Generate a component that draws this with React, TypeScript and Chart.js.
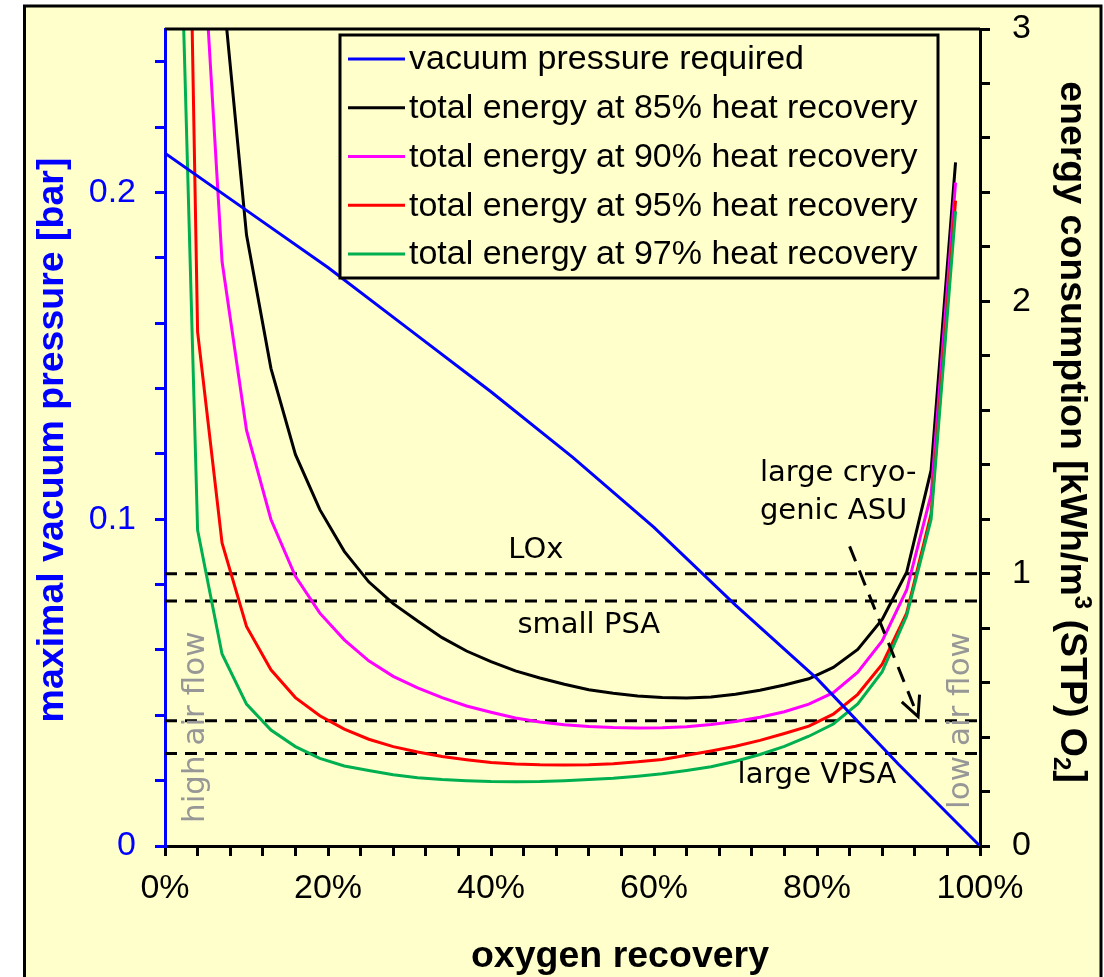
import React, { useEffect, useRef } from "react";
import { Chart, registerables } from "chart.js";

Chart.register(...registerables);

// ---------------- data ----------------
const RECOVERY_PCT = [1, 4, 7, 10, 13, 16, 19, 22, 25, 28, 31, 34, 37, 40, 43, 46, 49, 52, 55, 58, 61, 64, 67, 70, 73, 76, 79, 82, 85, 88, 91, 94, 97];

const ENERGY_85 = [20, 5.4, 3.18, 2.244, 1.754, 1.438, 1.235, 1.082, 0.97, 0.89, 0.826, 0.765, 0.716, 0.677, 0.643, 0.617, 0.594, 0.574, 0.561, 0.551, 0.545, 0.543, 0.547, 0.557, 0.572, 0.591, 0.614, 0.656, 0.722, 0.832, 1.005, 1.38, 2.51];
const ENERGY_90 = [13.5, 3.66, 2.146, 1.527, 1.199, 0.99, 0.855, 0.757, 0.68, 0.623, 0.581, 0.545, 0.514, 0.491, 0.47, 0.455, 0.445, 0.439, 0.435, 0.433, 0.434, 0.438, 0.446, 0.457, 0.473, 0.493, 0.521, 0.563, 0.638, 0.753, 0.94, 1.29, 2.436];
const ENERGY_95 = [6.9, 1.888, 1.113, 0.806, 0.647, 0.545, 0.478, 0.429, 0.392, 0.365, 0.345, 0.329, 0.317, 0.307, 0.301, 0.298, 0.297, 0.298, 0.302, 0.309, 0.318, 0.333, 0.349, 0.366, 0.388, 0.413, 0.44, 0.484, 0.557, 0.668, 0.855, 1.22, 2.37];
const ENERGY_97 = [4.4, 1.16, 0.705, 0.521, 0.426, 0.365, 0.322, 0.294, 0.277, 0.262, 0.251, 0.244, 0.24, 0.237, 0.236, 0.237, 0.24, 0.244, 0.249, 0.256, 0.265, 0.277, 0.291, 0.311, 0.336, 0.366, 0.403, 0.448, 0.522, 0.64, 0.845, 1.2, 2.33];

const VACUUM_X = [0, 10, 20, 30, 40, 50, 60, 70, 80, 90, 100];
const VACUUM_P = [0.212, 0.1945, 0.177, 0.158, 0.139, 0.119, 0.0975, 0.0737, 0.0512, 0.025, 0];

const REFERENCE_LEVELS = [1.0, 0.9, 0.46, 0.34];

const LEGEND_LABELS = [
  "vacuum pressure required",
  "total energy at 85% heat recovery",
  "total energy at 90% heat recovery",
  "total energy at 95% heat recovery",
  "total energy at 97% heat recovery",
];

const X_TICK_LABEL_STEP = 20;
const LEFT_LABEL_STEP = 0.1;
const RIGHT_LABEL_STEP = 1;

// ---------------- styles / layout ----------------
const W = 1104;
const H = 977;
const BG = "#FFFFCC";
const BLUE = "#0000FF";
const COLORS = ["#0000FF", "#000000", "#FF00FF", "#FF0000", "#00B050"];
const GRAY = "#979797";
const TICK_FONT = "Liberation Sans, Arial, sans-serif";
const ANN_FONT = "DejaVu Sans, sans-serif";

const ANNOTATIONS = [
  { text: "LOx", x: 45.5, y: 1.059, align: "center" },
  { text: "small PSA", x: 52.0, y: 0.783, align: "center" },
  { text: "large cryo-", x: 73.0, y: 1.339, align: "left" },
  { text: "genic ASU", x: 73.0, y: 1.199, align: "left" },
  { text: "large VPSA", x: 80.0, y: 0.2305, align: "center" },
];
const VERTICAL_NOTES = [
  { text: "high air flow", x: 4.8, y: 0.436 },
  { text: "low air flow", x: 98.6, y: 0.461 },
];
const ARROW = { from: [84.0, 1.1], to: [92.4, 0.475] };

function drawRich(ctx: CanvasRenderingContext2D, segs: { t: string; f: string; dy?: number }[], x: number, y: number, rot: number) {
  ctx.save();
  ctx.translate(x, y);
  ctx.rotate(rot);
  ctx.textAlign = "left";
  ctx.textBaseline = "alphabetic";
  let total = 0;
  const ws = segs.map((s) => {
    ctx.font = s.f;
    const w = ctx.measureText(s.t).width;
    total += w;
    return w;
  });
  let cx = -total / 2;
  segs.forEach((s, i) => {
    ctx.font = s.f;
    ctx.fillText(s.t, cx, s.dy || 0);
    cx += ws[i];
  });
  ctx.restore();
}

const decorPlugin = {
  id: "decor",
  beforeDraw(chart: any) {
    const ctx: CanvasRenderingContext2D = chart.ctx;
    ctx.save();
    ctx.fillStyle = "#FFFFFF";
    ctx.fillRect(0, 0, W, H);
    ctx.fillStyle = BG;
    ctx.fillRect(24.5, 6, 1101 - 24.5, H + 20);
    ctx.strokeStyle = "#000";
    ctx.lineWidth = 3;
    ctx.strokeRect(24.5, 6, 1101 - 24.5, H + 20);
    ctx.restore();
  },
  afterDraw(chart: any) {
    const ctx: CanvasRenderingContext2D = chart.ctx;
    const ca = chart.chartArea;
    const xs = chart.scales.x;
    const ys = chart.scales.y2;
    ctx.save();

    // top frame line
    ctx.strokeStyle = "#000";
    ctx.lineWidth = 3;
    ctx.beginPath();
    ctx.moveTo(ca.left, ca.top);
    ctx.lineTo(ca.right, ca.top);
    ctx.stroke();

    // annotations
    ctx.fillStyle = "#000";
    ctx.font = `29px ${ANN_FONT}`;
    ctx.textBaseline = "alphabetic";
    ANNOTATIONS.forEach((a) => {
      ctx.textAlign = a.align as CanvasTextAlign;
      ctx.fillText(a.text, xs.getPixelForValue(a.x), ys.getPixelForValue(a.y));
    });

    // vertical gray notes
    ctx.fillStyle = GRAY;
    ctx.font = `31px ${ANN_FONT}`;
    VERTICAL_NOTES.forEach((n) => {
      ctx.save();
      ctx.translate(xs.getPixelForValue(n.x), ys.getPixelForValue(n.y));
      ctx.rotate(-Math.PI / 2);
      ctx.textAlign = "center";
      ctx.fillText(n.text, 0, 0);
      ctx.restore();
    });

    // arrow
    const x0 = xs.getPixelForValue(ARROW.from[0]);
    const y0 = ys.getPixelForValue(ARROW.from[1]);
    const x1 = xs.getPixelForValue(ARROW.to[0]);
    const y1 = ys.getPixelForValue(ARROW.to[1]);
    ctx.strokeStyle = "#000";
    ctx.lineWidth = 3;
    ctx.setLineDash([16, 10]);
    ctx.beginPath();
    ctx.moveTo(x0, y0);
    ctx.lineTo(x1, y1);
    ctx.stroke();
    ctx.setLineDash([]);
    const ang = Math.atan2(y1 - y0, x1 - x0);
    const hl = 22;
    ctx.beginPath();
    ctx.moveTo(x1 + hl * Math.cos(ang + Math.PI - 0.45), y1 + hl * Math.sin(ang + Math.PI - 0.45));
    ctx.lineTo(x1, y1);
    ctx.lineTo(x1 + hl * Math.cos(ang + Math.PI + 0.45), y1 + hl * Math.sin(ang + Math.PI + 0.45));
    ctx.stroke();

    // legend
    const lx = 340, ly = 35, lw = 598, lh = 243;
    ctx.fillStyle = BG;
    ctx.fillRect(lx, ly, lw, lh);
    ctx.strokeStyle = "#000";
    ctx.lineWidth = 3;
    ctx.strokeRect(lx, ly, lw, lh);
    ctx.font = `34px ${TICK_FONT}`;
    ctx.textAlign = "left";
    ctx.textBaseline = "middle";
    LEGEND_LABELS.forEach((label, i) => {
      const ry = 59 + i * 48.75;
      ctx.strokeStyle = COLORS[i];
      ctx.beginPath();
      ctx.moveTo(348, ry);
      ctx.lineTo(405, ry);
      ctx.stroke();
      ctx.fillStyle = "#000";
      ctx.fillText(label, 409, ry + 1);
    });

    // axis titles
    const bold = (s: number) => `bold ${s}px ${TICK_FONT}`;
    ctx.fillStyle = BLUE;
    drawRich(ctx, [{ t: "maximal vacuum pressure [bar]", f: bold(37.5) }], 63, 440, -Math.PI / 2);
    ctx.fillStyle = "#000";
    drawRich(
      ctx,
      [
        { t: "energy consumption [kWh/m", f: bold(37.5) },
        { t: "3", f: bold(24), dy: -14 },
        { t: " (STP) O", f: bold(37.5) },
        { t: "2", f: bold(24), dy: 7 },
        { t: "]", f: bold(37.5) },
      ],
      1061,
      432,
      Math.PI / 2
    );
    drawRich(ctx, [{ t: "oxygen recovery", f: bold(37.5) }], 620, 967, 0);

    ctx.restore();
  },
};

const zeroPad = (s: any) => {
  s.paddingTop = 0;
  s.paddingBottom = 0;
  s.paddingLeft = 0;
  s.paddingRight = 0;
};

function buildConfig(): any {
  const energySeries = [ENERGY_85, ENERGY_90, ENERGY_95, ENERGY_97];
  const datasets: any[] = [];
  datasets.push({
    label: LEGEND_LABELS[0],
    data: VACUUM_X.map((x, i) => ({ x, y: VACUUM_P[i] })),
    borderColor: COLORS[0],
    borderWidth: 3,
    yAxisID: "y",
    order: 1,
  });
  energySeries.forEach((s, k) => {
    datasets.push({
      label: LEGEND_LABELS[k + 1],
      data: RECOVERY_PCT.map((x, i) => ({ x, y: s[i] })),
      borderColor: COLORS[k + 1],
      borderWidth: 3,
      yAxisID: "y2",
      order: 2 + (3 - k),
    });
  });
  REFERENCE_LEVELS.forEach((lvl) => {
    datasets.push({
      label: "",
      data: [
        { x: 0, y: lvl },
        { x: 100, y: lvl },
      ],
      borderColor: "#000",
      borderWidth: 3,
      borderDash: [12, 8],
      yAxisID: "y2",
      order: 10,
    });
  });

  const tickFont = { family: TICK_FONT, size: 34 };
  const near = (v: number, step: number) => Math.abs(v / step - Math.round(v / step)) < 1e-6;

  return {
    type: "line",
    data: { datasets },
    options: {
      responsive: false,
      animation: false,
      devicePixelRatio: 1,
      layout: { padding: { top: 29, left: 0, right: 0, bottom: 0 } },
      plugins: { legend: { display: false }, tooltip: { enabled: false }, title: { display: false } },
      elements: { point: { radius: 0 }, line: { tension: 0, fill: false } },
      scales: {
        x: {
          type: "linear",
          position: "bottom",
          min: 0,
          max: 100,
          afterFit: (s: any) => {
            s.height = 131;
            zeroPad(s);
          },
          ticks: {
            stepSize: 4,
            autoSkip: false,
            maxRotation: 0,
            includeBounds: false,
            color: "#000",
            font: tickFont,
            padding: 12,
            callback: (v: number) => (near(v, X_TICK_LABEL_STEP) ? `${Math.round(v)}%` : ""),
          },
          grid: { display: true, drawOnChartArea: false, drawTicks: true, tickLength: 10, tickWidth: 3, tickColor: "#000", color: "#000", lineWidth: 3 },
          border: { display: true, color: "#000", width: 3 },
        },
        y: {
          type: "linear",
          position: "left",
          min: 0,
          max: 0.25,
          afterFit: (s: any) => {
            s.width = 165;
            zeroPad(s);
          },
          ticks: {
            stepSize: 0.02,
            autoSkip: false,
            includeBounds: false,
            color: BLUE,
            font: tickFont,
            padding: 19,
            callback: (v: number) => (near(v, LEFT_LABEL_STEP) ? String(Math.round(v * 10) / 10) : ""),
          },
          grid: { display: true, drawOnChartArea: false, drawTicks: true, tickLength: 10, tickWidth: 3, tickColor: BLUE, color: BLUE, lineWidth: 3 },
          border: { display: true, color: BLUE, width: 3 },
        },
        y2: {
          type: "linear",
          position: "right",
          min: 0,
          max: 3,
          afterFit: (s: any) => {
            s.width = W - 980;
            zeroPad(s);
          },
          ticks: {
            stepSize: 0.2,
            autoSkip: false,
            includeBounds: false,
            color: "#000",
            font: tickFont,
            padding: 22,
            callback: (v: number) => (near(v, RIGHT_LABEL_STEP) ? String(Math.round(v)) : ""),
          },
          grid: { display: true, drawOnChartArea: false, drawTicks: true, tickLength: 10, tickWidth: 3, tickColor: "#000", color: "#000", lineWidth: 3 },
          border: { display: true, color: "#000", width: 3 },
        },
      },
    },
    plugins: [decorPlugin],
  };
}

export default function App() {
  const ref = useRef<HTMLCanvasElement>(null);
  useEffect(() => {
    if (!ref.current) return;
    const chart = new Chart(ref.current, buildConfig());
    return () => chart.destroy();
  }, []);
  return (
    <div style={{ position: "absolute", left: 0, top: 0, width: W, height: H }}>
      <canvas ref={ref} width={W} height={H} style={{ display: "block", width: W, height: H }} />
    </div>
  );
}
